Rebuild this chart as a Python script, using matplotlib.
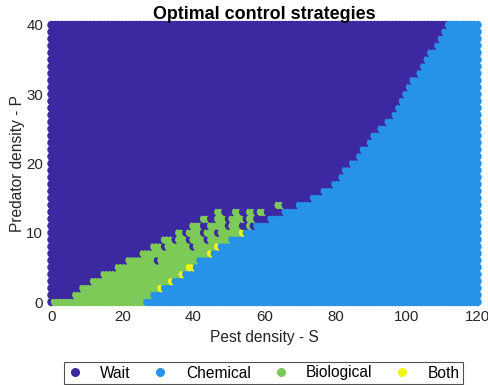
import numpy as np
import matplotlib
matplotlib.use("Agg")
import matplotlib.pyplot as plt
from matplotlib.lines import Line2D

# ---- data ----
pest_values = list(range(0, 121))       # S grid
predator_values = list(range(0, 41))    # P grid

categories = ["Wait", "Chemical", "Biological", "Both"]
colors = ["#3C28A0", "#2692E8", "#7DCA58", "#F5F515"]

# first S (per P row) where Chemical is optimal
chem_start = [27, 29, 32, 35, 38, 41, 42, 46, 48, 51, 55, 58, 62, 66, 70,
              74, 77, 80, 82, 83, 85, 87, 88, 90, 91, 93, 95, 97, 98, 99,
              100, 101, 102, 104, 105, 106, 107, 109, 110, 111, 112]

# Biological ranges of S per P row
bio_segments = {
    0: [(1, 26)],
    1: [(7, 28)],
    2: [(9, 30)],
    3: [(12, 33)],
    4: [(15, 36)],
    5: [(19, 38)],
    6: [(22, 29), (31, 41)],
    7: [(26, 44)],
    8: [(29, 31), (33, 39), (41, 46)],
    9: [(32, 34), (36, 38), (40, 43), (45, 50)],
    10: [(36, 37), (39, 42), (44, 46), (48, 53)],
    11: [(40, 42), (45, 49), (51, 53), (56, 56)],
    12: [(43, 44), (47, 49), (51, 54), (56, 57)],
    13: [(47, 48), (52, 53), (56, 57), (59, 60)],
    14: [(64, 65)],
}

# (S, P) points where Both is optimal
both_points = [(31, 2), (34, 3), (37, 4), (39, 5), (40, 5), (45, 7), (47, 8), (54, 10)]


def classify(s, p):
    if s >= chem_start[p]:
        return 1
    if (s, p) in both_points:
        return 3
    for a, b in bio_segments.get(p, []):
        if a <= s <= b:
            return 2
    return 0


xs, ys, cs = [], [], []
for s in pest_values:
    for p in predator_values:
        xs.append(s)
        ys.append(p)
        cs.append(colors[classify(s, p)])

plt.rcParams['font.family'] = ['Liberation Sans', 'DejaVu Sans']

fig = plt.figure(figsize=(4.89, 3.85), dpi=100)
ax = fig.add_axes([51.5 / 489, 83 / 385, 426 / 489, 277 / 385])

ax.scatter(xs, ys, c=cs, s=37, marker='o', linewidths=0, clip_on=False, zorder=3)

ax.set_xlim(0, 120)
ax.set_ylim(0, 40)
ax.set_xticks([0, 20, 40, 60, 80, 100, 120])
ax.set_yticks([0, 10, 20, 30, 40])
for sp in ax.spines.values():
    sp.set_visible(False)
ax.tick_params(direction='in', length=0, labelsize=10.8, colors='#262626', pad=6)

ax.set_xlabel("Pest density - S", fontsize=11.2, color='#262626', labelpad=4)
ax.set_ylabel("Predator density - P", fontsize=11.2, color='#262626', labelpad=1)
ax.set_title("Optimal control strategies", fontsize=12.9, fontweight='bold', pad=4)

handles = [Line2D([], [], linestyle='none', marker='o', markersize=5.5,
                  markerfacecolor=c, markeredgecolor=c) for c in colors]
leg = fig.legend(handles, categories, ncol=4, loc='center',
                 bbox_to_anchor=(263.5 / 489, 1 - 373 / 385),
                 fontsize=11.2, frameon=True, fancybox=False,
                 handlelength=1.0, handletextpad=1.15, columnspacing=1.4,
                 borderpad=0.2, borderaxespad=0)
leg.get_frame().set_edgecolor('#262626')
leg.get_frame().set_linewidth(0.8)

fig.savefig("out.png", dpi=100)
